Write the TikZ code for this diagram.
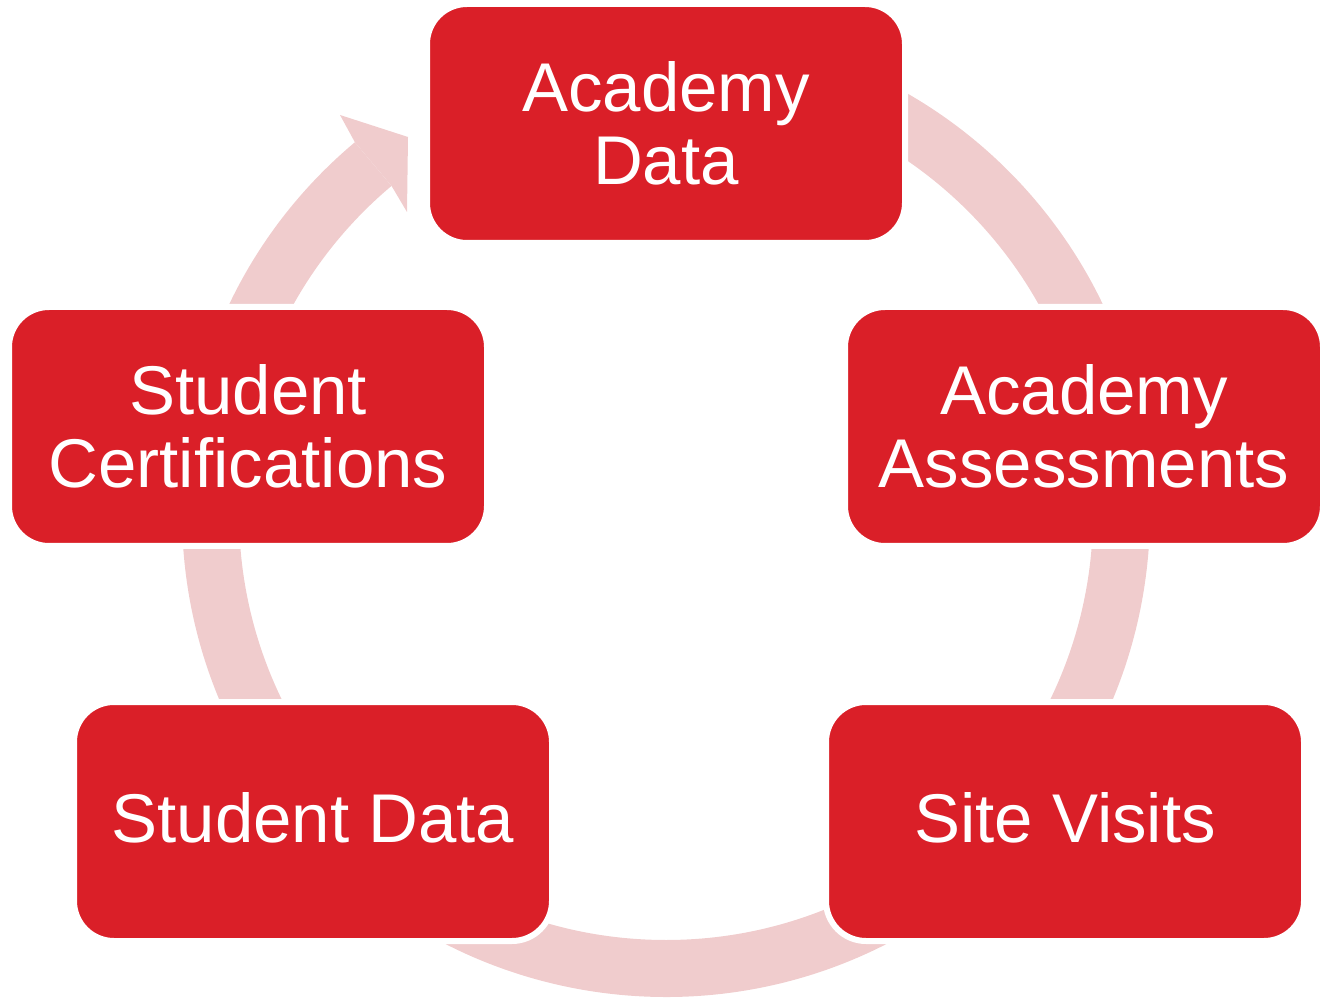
\documentclass[tikz,border=0pt]{standalone}
\usepackage{fontspec}
\setmainfont{Liberation Sans}
\definecolor{boxred}{RGB}{218,31,40}
\definecolor{ringpink}{RGB}{240,204,205}
\tikzset{
  stagebox/.style={draw=white, line width=6pt, fill=boxred, rounded corners=40pt,
    minimum width=478pt, minimum height=239pt, inner sep=0pt, text=white,
    align=center, font=\fontsize{69pt}{73pt}\selectfont},
  oneline/.style={text depth=9pt},
  ringfill/.style={fill=ringpink, draw=none}
}
\begin{document}
\begin{tikzpicture}[x=1pt,y=1pt]
\useasboundingbox (0,0) rectangle (1322,997);
\coordinate (c) at (666,484);
% ring (behind the boxes)
\fill[ringfill] ([shift={(130:484pt)}]c) arc[start angle=130,end angle=450,radius=484pt]
  -- ([shift={(90:427pt)}]c) arc[start angle=450,end angle=130,radius=427pt] -- cycle;
% arrow head
\coordinate (hbo) at ([shift={(130:484pt)}]c);
\coordinate (hbi) at ([shift={(130:427pt)}]c);
\coordinate (hb1) at (340,882);
\coordinate (ht1) at (408,860);
\coordinate (ht2) at (407,785);
\fill[ringfill] (hbo) -- (hb1) -- (ht1) -- (ht2) -- (hbi) -- cycle;
% boxes
\node[stagebox] (ad) at (666,873.5) {Academy\\Data};
\node[stagebox] (aa) at (1084,570.5) {Academy\\Assessments};
\node[stagebox,oneline] (sv) at (1065,175.5) {Site Visits};
\node[stagebox,oneline] (sd) at (313,175.5) {Student Data};
\node[stagebox] (sc) at (248,570.5) {Student\\Certifications};
\end{tikzpicture}
\end{document}
